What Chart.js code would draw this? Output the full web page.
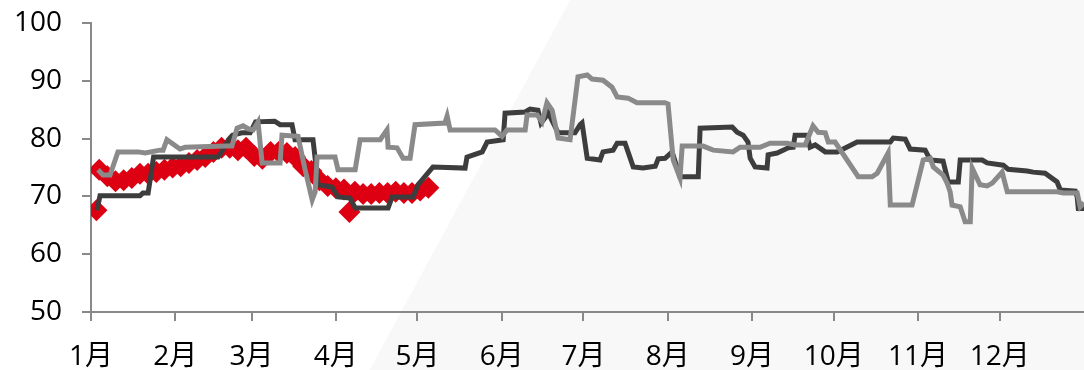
<!DOCTYPE html>
<html>
<head>
<meta charset="utf-8">
<script src="https://cdn.jsdelivr.net/npm/chart.js@4"></script>
<style>
  html, body { margin: 0; padding: 0; background: #ffffff; }
  #wrap { width: 1084px; height: 370px; }
</style>
</head>
<body>
<div id="wrap"><canvas id="chart" width="1084" height="370"></canvas></div>
<script>
// mois (jour de l'année du 1er de chaque mois) et leurs libellés
const monthStarts = [0, 31, 59, 90, 120, 151, 181, 212, 243, 273, 304, 334];
const monthLabels = ['1月', '2月', '3月', '4月', '5月', '6月', '7月', '8月', '9月', '10月', '11月', '12月'];
const yTicks = [50, 60, 70, 80, 90, 100];

// série rouge (losanges), s'arrête début mai
const redDays = [2, 3, 6, 9, 12, 15, 18, 21, 24, 27, 30, 33, 36, 39, 42, 45, 48, 51, 54, 57, 60, 63, 66, 69, 72, 75, 78, 81, 84, 87, 90, 93, 95, 97, 100, 103, 106, 109, 112, 115, 118, 121, 124];
const redValues = [67.6, 74.6, 73.5, 72.6, 72.8, 73.2, 73.9, 73.9, 74.2, 74.6, 75.0, 75.2, 75.8, 76.3, 76.8, 77.7, 78.4, 78.4, 78.0, 78.4, 77.0, 76.5, 77.7, 77.7, 77.5, 76.8, 75.2, 74.4, 72.8, 71.8, 71.4, 71.2, 67.3, 70.8, 70.4, 70.4, 70.6, 70.6, 70.8, 70.6, 70.6, 71.0, 71.5];

// série gris foncé
const darkDays = [2.2, 3.3, 18, 19.1, 21, 23, 46.7, 48, 50.5, 52, 55.5, 58.5, 60.5, 67.5, 69.5, 73.9, 75, 81.6, 83.5, 88.6, 90.8, 95.2, 97.1, 109.2, 110.7, 118.4, 120.2, 125.7, 137.5, 138.2, 143.8, 145.6, 151.5, 152.2, 159.6, 161.4, 164.3, 165.4, 166.9, 168, 171.7, 177.9, 179.8, 180.5, 182.4, 187.1, 188.2, 191.9, 193.4, 196.3, 199.3, 202.9, 207.4, 208.5, 211, 213.6, 216.5, 223.2, 223.9, 235.7, 237.5, 239.7, 241.5, 242.3, 244.1, 248.5, 248.9, 252.2, 256.3, 258.1, 258.8, 263.2, 264.3, 266.2, 269.9, 274.3, 281.6, 293.8, 294.9, 299.3, 301.1, 306.6, 308.5, 313.2, 315.1, 318.8, 319.5, 327.6, 329.4, 335.3, 337.1, 344.1, 346.3, 350.7, 355.1, 356.3, 361.8, 362.5, 362.9, 365];
const darkValues = [67.6, 70.1, 70.1, 70.6, 70.6, 76.8, 76.8, 77.7, 79.8, 80.6, 81.0, 81.0, 82.9, 83.0, 82.4, 82.4, 79.8, 79.8, 72.0, 71.6, 69.9, 69.7, 68.0, 68.0, 69.9, 69.9, 72.0, 75.1, 74.9, 76.8, 77.7, 79.4, 79.8, 84.4, 84.6, 85.1, 84.9, 82.7, 83.6, 84.5, 81.0, 81.0, 82.4, 82.7, 76.6, 76.3, 77.7, 78.0, 79.2, 79.2, 75.1, 74.9, 75.2, 76.5, 76.6, 77.7, 73.4, 73.4, 81.8, 82.0, 81.1, 80.6, 79.4, 76.6, 75.1, 74.9, 77.2, 77.5, 78.4, 78.5, 80.6, 80.6, 78.5, 78.9, 77.7, 77.7, 79.4, 79.4, 80.1, 79.9, 78.2, 78.0, 76.3, 76.1, 72.5, 72.5, 76.3, 76.3, 75.8, 75.4, 74.7, 74.4, 74.2, 74.0, 72.5, 71.1, 70.9, 69.9, 67.9, 67.9];

// série gris clair
const greyDays = [2.6, 4.4, 7, 9.9, 17.3, 19.9, 25.4, 26.5, 27.9, 32.7, 34.6, 49.3, 51.8, 53.7, 55.9, 57.7, 59.6, 61.4, 62.9, 69.5, 70.2, 76.1, 78.7, 81.3, 82.4, 83.1, 89.7, 90.8, 97.1, 98.9, 106.3, 108.8, 109.2, 112.5, 114.7, 117.3, 119.1, 130.1, 130.9, 132, 148.5, 151.1, 152.9, 159.6, 160.3, 164, 165.8, 167.6, 169.5, 171.7, 176.1, 179, 182.4, 184.2, 188.2, 191.5, 193.4, 197.4, 200.7, 211, 212.1, 214, 216.5, 217.3, 225, 228.7, 236, 238.6, 245.9, 249.6, 255.9, 258.8, 262.5, 265.4, 267.3, 269.9, 271, 273.5, 282, 287.1, 289, 293, 293.8, 301.8, 305.9, 308.5, 309.6, 313.2, 314.7, 315.8, 316.5, 319.5, 321.3, 323.2, 323.9, 326.8, 329.4, 331.3, 334.9, 336.8, 355.1, 357.4, 362.5, 363.6, 365];
const greyValues = [74.6, 73.7, 73.7, 77.7, 77.7, 77.5, 78.0, 78.0, 79.8, 78.2, 78.5, 78.7, 78.7, 81.8, 82.2, 81.7, 81.5, 82.9, 75.8, 75.8, 80.6, 80.4, 74.6, 69.4, 70.8, 76.8, 76.8, 74.6, 74.6, 79.8, 79.8, 81.5, 78.5, 78.4, 76.6, 76.6, 82.4, 82.7, 83.9, 81.5, 81.5, 80.4, 81.5, 81.5, 84.1, 84.1, 82.9, 86.2, 84.9, 80.1, 79.8, 90.7, 91.0, 90.3, 90.1, 88.9, 87.2, 87.0, 86.2, 86.2, 86.0, 76.3, 73.2, 78.7, 78.7, 78.0, 77.7, 78.5, 78.5, 79.2, 79.2, 78.9, 78.9, 82.2, 81.1, 81.0, 79.4, 79.4, 73.4, 73.4, 74.0, 77.5, 68.5, 68.5, 76.3, 76.6, 75.1, 73.7, 72.3, 70.8, 68.5, 68.2, 65.6, 65.6, 74.9, 72.0, 71.8, 72.3, 74.2, 70.8, 70.8, 70.6, 70.6, 68.2, 68.9];

function toPoints(days, values) {
    return days.map((d, i) => ({ x: d, y: values[i] }));
}

// fond : zone gris très clair en diagonale à droite
const backgroundPlugin = {
    id: 'fond',
    beforeDraw(chart) {
        const ctx = chart.ctx;
        const w = chart.width, h = chart.height;
        ctx.save();
        ctx.fillStyle = '#ffffff';
        ctx.fillRect(0, 0, w, h);
        ctx.fillStyle = '#f8f8f8';
        ctx.beginPath();
        ctx.moveTo(w * 0.526, 0);
        ctx.lineTo(w, 0);
        ctx.lineTo(w, h);
        ctx.lineTo(w * 0.341, h);
        ctx.closePath();
        ctx.fill();
        ctx.restore();
    }
};

const tickFont = { family: "'Open Sans', 'Noto Sans CJK SC', sans-serif", size: 28 };
const axisGrey = '#898989';

new Chart(document.getElementById('chart').getContext('2d'), {
    type: 'line',
    data: {
        datasets: [
            {
                data: toPoints(greyDays, greyValues),
                borderColor: '#8a8a8a',
                borderWidth: 5,
                pointRadius: 0,
                tension: 0,
                order: 0
            },
            {
                data: toPoints(darkDays, darkValues),
                borderColor: '#3d3d3d',
                borderWidth: 5,
                pointRadius: 0,
                tension: 0,
                order: 1
            },
            {
                data: toPoints(redDays, redValues),
                showLine: false,
                pointStyle: 'rectRot',
                pointRadius: 11,
                pointBackgroundColor: '#dc0012',
                pointBorderWidth: 0,
                order: 2
            }
        ]
    },
    options: {
        responsive: false,
        animation: false,
        devicePixelRatio: 1,
        layout: { autoPadding: false, padding: { left: 0, right: 0, top: 23, bottom: 0 } },
        plugins: { legend: { display: false }, tooltip: { enabled: false } },
        scales: {
            x: {
                type: 'linear',
                min: 0,
                max: 365,
                afterBuildTicks: axis => { axis.ticks = monthStarts.map(v => ({ value: v })); },
                afterFit: axis => { axis.height = 58; axis.paddingLeft = 0; axis.paddingRight = 0; },
                ticks: {
                    autoSkip: false,
                    maxRotation: 0,
                    color: '#000000',
                    font: tickFont,
                    padding: 19,
                    callback: value => monthLabels[monthStarts.indexOf(value)]
                },
                grid: { drawOnChartArea: false, color: axisGrey, tickLength: 9, lineWidth: 2 },
                border: { color: axisGrey, width: 2 }
            },
            y: {
                min: 50,
                max: 100,
                afterBuildTicks: axis => { axis.ticks = yTicks.map(v => ({ value: v })); },
                afterFit: axis => { axis.width = 91; axis.paddingTop = 0; axis.paddingBottom = 0; },
                ticks: { color: '#000000', font: tickFont, padding: 20 },
                grid: { drawOnChartArea: false, color: axisGrey, tickLength: 9, lineWidth: 2 },
                border: { color: axisGrey, width: 2 }
            }
        }
    },
    plugins: [backgroundPlugin]
});
</script>
</body>
</html>
